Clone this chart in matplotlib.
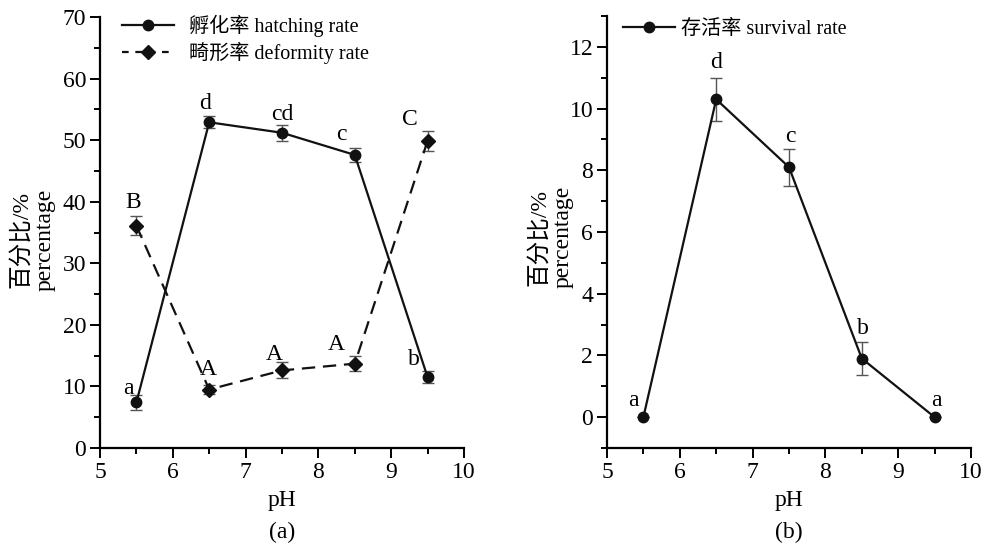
import numpy as np
import matplotlib
matplotlib.use("Agg")
import matplotlib.pyplot as plt
from matplotlib.ticker import MultipleLocator
from matplotlib.lines import Line2D

plt.rcParams['font.family'] = ['Liberation Serif', 'Noto Sans CJK SC', 'DejaVu Sans']
plt.rcParams['axes.unicode_minus'] = False

ph = [5.5, 6.5, 7.5, 8.5, 9.5]

hatch = [7.4, 52.9, 51.2, 47.6, 11.5]
hatch_err = [1.2, 1.0, 1.3, 1.2, 1.0]
hatch_lab = ['a', 'd', 'cd', 'c', 'b']

deform = [36.1, 9.5, 12.6, 13.7, 49.9]
deform_err = [1.5, 0.8, 1.3, 1.2, 1.6]
deform_lab = ['B', 'A', 'A', 'A', 'C']

surv = [0.0, 10.3, 8.1, 1.9, 0.0]
surv_err = [0.0, 0.7, 0.6, 0.55, 0.0]
surv_lab = ['a', 'd', 'c', 'b', 'a']

# label offsets in pixels (dx, dy)
hatch_off = [(-8, 14), (-4, 19), (0, 18), (-13, 20), (-14, 18)]
deform_off = [(-3, 23), (-1, 20), (-8, 16), (-19, 19), (-18, 21)]
surv_off = [(-10, 17), (0, 37), (1, 31), (1, 30), (2, 17)]

W, H = 984, 548
fig = plt.figure(figsize=(W / 100, H / 100), dpi=100)
ax1 = fig.add_axes([100 / W, (H - 448) / H, 364 / W, 431 / H])
ax2 = fig.add_axes([607 / W, (H - 448) / H, 364 / W, 432 / H])

ecol = '#555555'
lc = '#111111'


def style(ax):
    for s in ['top', 'right']:
        ax.spines[s].set_visible(False)
    for s in ['left', 'bottom']:
        ax.spines[s].set_linewidth(1.6)
    ax.tick_params(which='major', direction='out', length=7, width=1.4,
                   labelsize=17, pad=3)
    ax.tick_params(which='minor', direction='out', length=4, width=1.4)
    ax.xaxis.set_major_locator(MultipleLocator(1))
    ax.xaxis.set_minor_locator(MultipleLocator(0.5))
    ax.set_xlim(5, 10)
    ax.set_xlabel('pH', fontsize=17, labelpad=5)


def label(ax, xs, ys, labs, offs):
    for x, y, t, (dx, dy) in zip(xs, ys, labs, offs):
        ax.annotate(t, (x, y), xytext=(dx, dy), textcoords='offset pixels',
                    ha='center', va='center', fontsize=17)


# (a)
ax1.errorbar(ph, hatch, yerr=hatch_err, fmt='-o', color=lc, lw=1.6,
             ms=7.5, ecolor=ecol, elinewidth=1, capsize=4.5, capthick=1)
ax1.errorbar(ph, deform, yerr=deform_err, fmt='--D', color=lc, lw=1.6,
             ms=7.5, ecolor=ecol, elinewidth=1, capsize=4.5, capthick=1,
             dashes=(6, 3.5))
label(ax1, ph, hatch, hatch_lab, hatch_off)
label(ax1, ph, deform, deform_lab, deform_off)
style(ax1)
ax1.set_ylim(0, 70)
ax1.yaxis.set_major_locator(MultipleLocator(10))
ax1.yaxis.set_minor_locator(MultipleLocator(5))
h1 = [Line2D([], [], color=lc, lw=1.6, marker='o', ms=7.5),
      Line2D([], [], color=lc, lw=1.6, marker='D', ms=7.5, ls='--', dashes=(3, 3))]
ax1.legend(h1, ['孵化率 hatching rate', '畸形率 deformity rate'], loc='upper left',
           bbox_to_anchor=(0.06, 1.005), frameon=False, fontsize=14.5,
           handlelength=2.6, handletextpad=0.75, labelspacing=0.25,
           borderpad=0, borderaxespad=0)
fig.text(33 / W, 1 - 240 / H, '百分比/%\npercentage', rotation=90, fontsize=17,
         ha='center', va='center', linespacing=1.2)
fig.text(282 / W, 1 - 532 / H, '(a)', fontsize=17, ha='center', va='center')

# (b)
ax2.errorbar(ph, surv, yerr=surv_err, fmt='-o', color=lc, lw=1.6,
             ms=7.5, ecolor=ecol, elinewidth=1, capsize=4.5, capthick=1)
label(ax2, ph, surv, surv_lab, surv_off)
style(ax2)
ax2.set_ylim(-1, 13)
ax2.yaxis.set_major_locator(MultipleLocator(2))
ax2.yaxis.set_minor_locator(MultipleLocator(1))
h2 = [Line2D([], [], color=lc, lw=1.6, marker='o', ms=7.5)]
ax2.legend(h2, ['存活率 survival rate'], loc='upper left',
           bbox_to_anchor=(0.044, 0.99), frameon=False, fontsize=14.5,
           handlelength=2.6, handletextpad=0.3, borderpad=0, borderaxespad=0)
fig.text(551 / W, 1 - 237 / H, '百分比/%\npercentage', rotation=90, fontsize=17,
         ha='center', va='center', linespacing=1.2)
fig.text(789 / W, 1 - 532 / H, '(b)', fontsize=17, ha='center', va='center')

fig.savefig('out.png', dpi=100)
